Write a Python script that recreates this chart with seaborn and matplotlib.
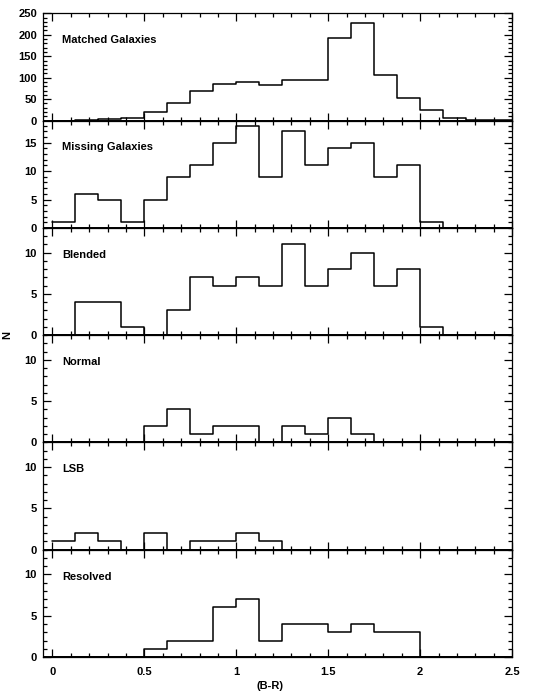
import numpy as np
import pandas as pd
import matplotlib
matplotlib.use("Agg")
import matplotlib.pyplot as plt
from matplotlib.ticker import MultipleLocator, FuncFormatter
import seaborn as sns

# ---- data ----
bin_edges = [i * 0.125 for i in range(21)]  # (B-R) bins 0 .. 2.5
panel_names = ["Matched Galaxies", "Missing Galaxies", "Blended", "Normal", "LSB", "Resolved"]
matched = [0, 2, 4, 6, 20, 40, 68, 85, 89, 82, 94, 95, 192, 227, 107, 52, 25, 6, 2, 1]
missing = [1, 6, 5, 1, 5, 9, 11, 15, 18, 9, 17, 11, 14, 15, 9, 11, 1, 0, 0, 0]
blended = [0, 4, 4, 1, 0, 3, 7, 6, 7, 6, 11, 6, 8, 10, 6, 8, 1, 0, 0, 0]
normal = [0, 0, 0, 0, 2, 4, 1, 2, 2, 0, 2, 1, 3, 1, 0, 0, 0, 0, 0, 0]
lsb = [1, 2, 1, 0, 2, 0, 1, 1, 2, 1, 0, 0, 0, 0, 0, 0, 0, 0, 0, 0]
resolved = [0, 0, 0, 0, 1, 2, 2, 6, 7, 2, 4, 4, 3, 4, 3, 3, 0, 0, 0, 0]
series = [matched, missing, blended, normal, lsb, resolved]
y_limits = [(0, 250), (0, 18.9), (0, 13), (0, 13), (0, 13), (0, 13)]
y_major = [50, 5, 5, 5, 5, 5]
y_minor = [10, 1, 1, 1, 1, 1]
x_ticks = [0, 0.5, 1, 1.5, 2, 2.5]

sns.set_style("ticks")
plt.rcParams["font.family"] = ["Liberation Sans", "DejaVu Sans"]
plt.rcParams["font.weight"] = "bold"
plt.rcParams["text.color"] = "black"
plt.rcParams["axes.labelcolor"] = "black"
plt.rcParams["xtick.color"] = "black"
plt.rcParams["ytick.color"] = "black"
plt.rcParams["axes.edgecolor"] = "black"

fig = plt.figure(figsize=(5.37, 6.94), dpi=100)
left, right, top, bottom = 0.0806, 0.9535, 0.9808, 0.0533
h = (top - bottom) / 6
centers = [(bin_edges[i] + bin_edges[i + 1]) / 2 for i in range(20)]

axes = []
for k, (name, counts) in enumerate(zip(panel_names, series)):
    ax = fig.add_axes([left, top - (k + 1) * h, right - left, h])
    df = pd.DataFrame({"BR": centers, "n": counts})
    sns.histplot(data=df, x="BR", weights="n", bins=bin_edges, element="step",
                 fill=False, color="black", linewidth=1.1, ax=ax)
    ax.axhline(0, color="black", lw=1.4)
    ax.set_xlim(-0.05, 2.5)
    ax.set_ylim(*y_limits[k])
    ax.xaxis.set_major_locator(MultipleLocator(0.5))
    ax.xaxis.set_minor_locator(MultipleLocator(0.1))
    ax.yaxis.set_major_locator(MultipleLocator(y_major[k]))
    ax.yaxis.set_minor_locator(MultipleLocator(y_minor[k]))
    ax.tick_params(which="both", direction="in", top=True, right=True,
                   labelsize=8, width=0.9)
    ax.tick_params(axis="y", pad=4.5)
    ax.tick_params(axis="x", pad=7)
    ax.tick_params(which="major", length=6)
    ax.tick_params(which="minor", length=3)
    for s in ax.spines.values():
        s.set_linewidth(0.9)
    ax.set_ylabel("")
    ax.set_xlabel("")
    ax.text(0.04, 0.75, name, transform=ax.transAxes, fontsize=8,
            fontweight="bold", ha="left", va="center")
    if k < 5:
        ax.tick_params(labelbottom=False)
    else:
        ax.set_xticks(x_ticks)
        ax.xaxis.set_major_formatter(FuncFormatter(lambda v, p: f"{v:g}"))
    axes.append(ax)

fig.text(0.503, 1 - 686 / 694, "(B-R)", fontsize=8, fontweight="bold",
         ha="center", va="center")
fig.text(0.014, 1 - 335 / 694, "N", rotation=90, fontsize=8, fontweight="bold",
         ha="center", va="center")

fig.savefig("out.png", dpi=100)
